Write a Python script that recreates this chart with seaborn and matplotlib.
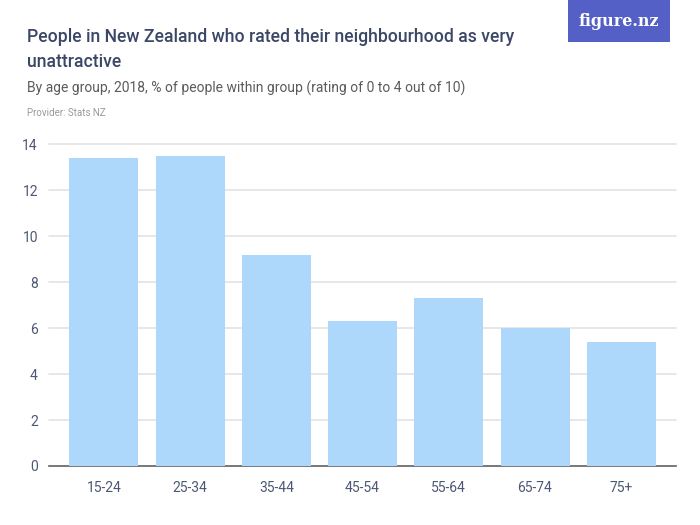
import matplotlib
matplotlib.use("Agg")
import matplotlib.pyplot as plt
import seaborn as sns
import pandas as pd
from matplotlib.patches import Rectangle

# Data
age_groups = ["15-24", "25-34", "35-44", "45-54", "55-64", "65-74", "75+"]
percent = [13.4, 13.5, 9.2, 6.3, 7.3, 6.0, 5.4]
y_ticks = [0, 2, 4, 6, 8, 10, 12, 14]

df = pd.DataFrame({"age": age_groups, "pct": percent})

sns.set_style("white")
plt.rcParams["font.family"] = ["Roboto", "DejaVu Sans"]

text_dark = "#3b4766"
tick_col = "#4d5874"

fig = plt.figure(figsize=(7, 5.25), dpi=100)
ax = fig.add_axes([0.07, 0.1124, 0.896, 0.6124])

sns.barplot(data=df, x="age", y="pct", color="#aed8fb", saturation=1,
            width=0.8, linewidth=0, ax=ax, zorder=3)

ax.set_ylim(0, 14)
ax.set_xlim(-0.637, 6.637)
ax.set_yticks(y_ticks)
ax.set_xlabel("")
ax.set_ylabel("")
ax.yaxis.grid(True, color="#e3e3e3", linewidth=1.2, zorder=0)
for gl in ax.get_ygridlines():
    gl.set_clip_on(False)
ax.set_axisbelow(True)
for s in ["top", "right", "left"]:
    ax.spines[s].set_visible(False)
ax.spines["bottom"].set_color("#666666")
ax.spines["bottom"].set_linewidth(1.2)
ax.tick_params(axis="y", length=0, labelsize=10, labelcolor=tick_col, pad=8)
ax.tick_params(axis="x", length=5, color="#aaaaaa", width=1.2,
               labelsize=10, labelcolor=tick_col, pad=6)

# Titles
fig.text(27 / 700, 1 - 37 / 525, "People in New Zealand who rated their neighbourhood as very",
         fontsize=12.7, fontweight="medium", color=text_dark, va="center", ha="left")
fig.text(27 / 700, 1 - 62 / 525, "unattractive",
         fontsize=12.7, fontweight="medium", color=text_dark, va="center", ha="left")
fig.text(27 / 700, 1 - 88 / 525,
         "By age group, 2018, % of people within group (rating of 0 to 4 out of 10)",
         fontsize=10, color="#5b5b5b", va="center", ha="left")
fig.text(27 / 700, 1 - 113 / 525, "Provider: Stats NZ",
         fontsize=7, color="#9a9a9a", va="center", ha="left")

# Logo
fig.patches.append(Rectangle((568 / 700, 1 - 42 / 525), 102 / 700, 42 / 525,
                             transform=fig.transFigure, facecolor="#5460c6",
                             edgecolor="none", zorder=5))
fig.text(619 / 700, 1 - 21 / 525, "figure.nz", fontsize=11.5, fontweight="bold",
         color="white", family="DejaVu Serif", va="center", ha="center", zorder=6)

fig.savefig("out.png", dpi=100)
